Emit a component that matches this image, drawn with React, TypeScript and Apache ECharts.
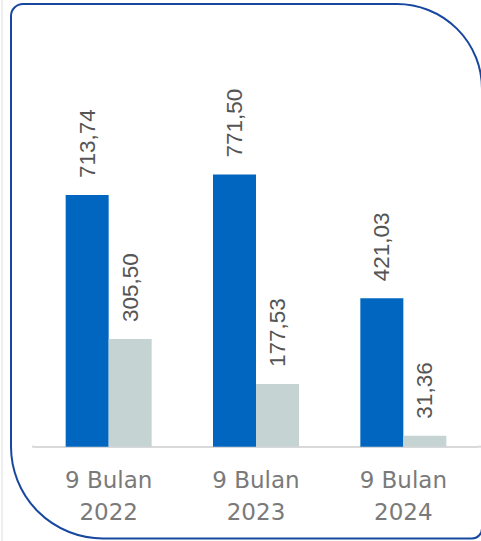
import React, { useEffect, useRef } from "react";
import * as echarts from "echarts";

const categories = ["9 Bulan\n2022", "9 Bulan\n2023", "9 Bulan\n2024"];
const seriesBlue = [713.74, 771.5, 421.03];
const seriesGrey = [305.5, 177.53, 31.36];

const fmt = (v: number) => v.toFixed(2).replace(".", ",");

export default function App() {
  const ref = useRef<HTMLDivElement>(null);
  useEffect(() => {
    if (!ref.current) return;
    const chart = echarts.init(ref.current, undefined, { renderer: "svg" });
    const baseY = 446.7;
    const valueLabel = {
      show: true,
      position: "top" as const,
      distance: 17,
      rotate: 90,
      align: "left" as const,
      verticalAlign: "middle" as const,
      color: "#555555",
      fontFamily: "Liberation Sans, Arial, sans-serif",
      fontSize: 22.5,
      formatter: (p: any) => fmt(p.value),
    };
    chart.setOption({
      animation: false,
      backgroundColor: "#ffffff",
      grid: { left: 35, right: 4, top: 94, bottom: 541 - baseY },
      xAxis: {
        type: "category",
        data: categories,
        axisTick: { show: false },
        axisLine: { show: true, lineStyle: { color: "#d9d9d9", width: 2 } },
        axisLabel: {
          interval: 0,
          margin: 17,
          color: "#7a7a7a",
          fontFamily: "DejaVu Sans, sans-serif",
          fontSize: 23,
          lineHeight: 32,
        },
      },
      yAxis: {
        type: "value",
        min: 0,
        max: 1000,
        show: false,
        splitLine: { show: false },
      },
      series: [
        {
          type: "bar",
          data: seriesBlue,
          barWidth: 43,
          barGap: "0%",
          itemStyle: { color: "#0066c0" },
          label: valueLabel,
        },
        {
          type: "bar",
          data: seriesGrey,
          barWidth: 43,
          barGap: "0%",
          itemStyle: { color: "#c6d3d3" },
          label: valueLabel,
        },
      ],
      graphic: [
        {
          type: "line",
          shape: { x1: 2, y1: 0, x2: 2, y2: 541 },
          style: { stroke: "#e8e8e8", lineWidth: 1.5 },
          silent: true,
        },
        {
          type: "line",
          shape: { x1: 32, y1: baseY, x2: 35, y2: baseY },
          style: { stroke: "#d9d9d9", lineWidth: 2 },
          silent: true,
        },
        {
          type: "line",
          shape: { x1: 477, y1: baseY, x2: 481, y2: baseY },
          style: { stroke: "#d9d9d9", lineWidth: 2 },
          silent: true,
        },
        {
          type: "rect",
          shape: { x: 11, y: 4, width: 471, height: 534.5, r: [12, 85, 10, 92] },
          style: { fill: "none", stroke: "#17479e", lineWidth: 2 },
          silent: true,
          z: 10,
        },
      ],
    });
    return () => chart.dispose();
  }, []);
  return (
    <div
      ref={ref}
      style={{ position: "absolute", left: 0, top: 0, width: 481, height: 541 }}
    />
  );
}
